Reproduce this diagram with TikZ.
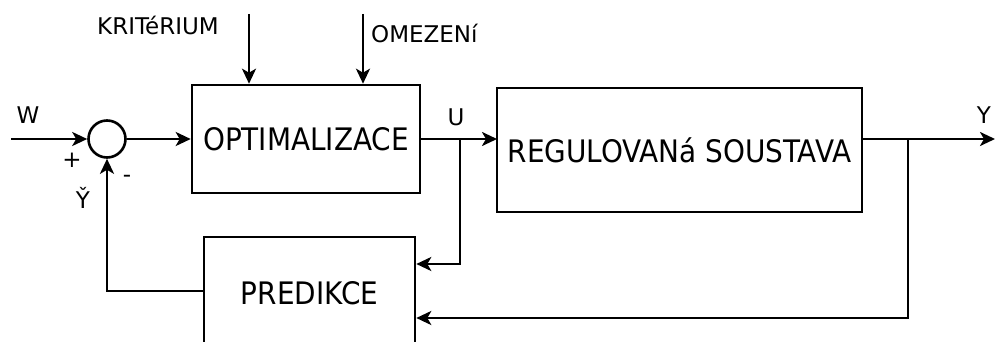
\documentclass[tikz,border=0pt]{standalone}
\usepackage{fontspec}
\setmainfont{DejaVu Sans Condensed}
\newfontfamily\lblfont{DejaVu Sans}
\usetikzlibrary{arrows.meta}
\begin{document}
\begin{tikzpicture}[x=1pt,y=1pt,
  blk/.style={draw,line width=2.6pt,rectangle,inner sep=0pt,font=\fontsize{31}{32}\selectfont},
  lbl/.style={inner sep=0pt,font=\lblfont\fontsize{23}{24}\selectfont},
  arr/.style={line width=2.6pt,-{Stealth[length=15pt,width=14pt,inset=4pt]}}]
\useasboundingbox (0,0) rectangle (995,-342);
\begin{scope}
\clip (0,0) rectangle (995,-342);
\node[blk,minimum width=228pt,minimum height=108pt] (opt) at (306,-139) {OPTIMALIZACE};
\node[blk,minimum width=365pt,minimum height=124pt] (reg) at (679.5,-150) {REGULOVANá SOUSTAVA};
\node[blk,minimum width=211pt,minimum height=112pt] (pred) at (309.5,-293) {PREDIKCE};
\node[draw,circle,line width=2.6pt,minimum size=37pt,inner sep=0pt] (sum) at (107,-139) {};
\coordinate (win) at (11,-139);
\coordinate (kin) at (249,-14);
\coordinate (oin) at (363,-14);
\coordinate (ju) at (460,-139);
\coordinate (jy) at (908,-139);
\coordinate (yout) at (995,-139);
\coordinate (regin) at (497,-139);
\coordinate (regout) at (862,-139);

\draw[arr] (win) -- (sum.west);
\draw[arr] (sum.east) -- (opt.west);
\draw[arr] (kin) -- (kin |- opt.north);
\draw[arr] (oin) -- (oin |- opt.north);
\draw[arr] (opt.east) -- (regin);
\draw[arr] (regout) -- (yout);
\draw[arr] (ju) -- (460,-264) -- (pred.east |- 0,-264);
\draw[arr] (jy) -- (908,-318) -- (pred.east |- 0,-318);
\draw[arr] (pred.west |- 0,-291) -- (sum.south |- 0,-291) -- (sum.south);
\end{scope}

\node[lbl] (tk) at (158,-25) {KRITéRIUM};
\node[lbl,anchor=west] (to) at (371,-33) {OMEZENí};
\node[lbl] (tw) at (28,-115) {W};
\node[lbl] (tu) at (456,-117) {U};
\node[lbl] (ty) at (984,-115) {Y};
\node[lbl] (tp) at (72,-160) {+};
\node[lbl] (tm) at (127,-179) {-};
\node[lbl] (tyh) at (83,-198) {\v{Y}};
\end{tikzpicture}
\end{document}
